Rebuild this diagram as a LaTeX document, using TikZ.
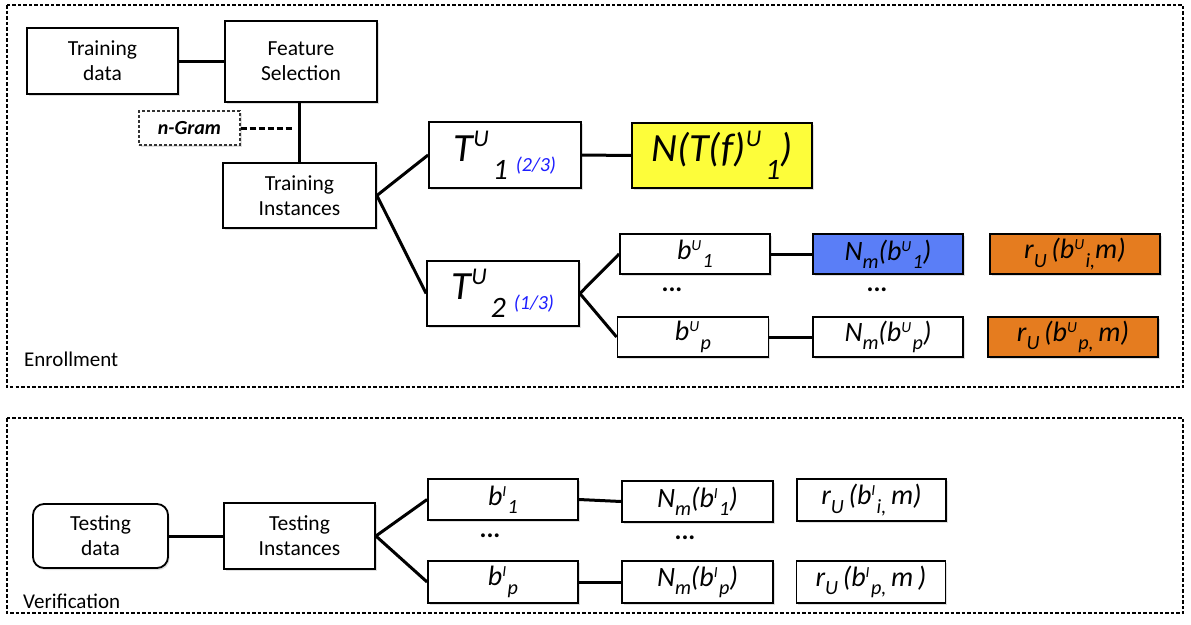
\documentclass[tikz,border=0pt]{standalone}
\usepackage{fontspec}
\setmainfont{Carlito}
\usepackage{graphicx}
\usetikzlibrary{shadows}

\definecolor{hlyellow}{RGB}{253,253,58}
\definecolor{hlblue}{RGB}{90,126,247}
\definecolor{hlorange}{RGB}{229,124,31}
\definecolor{fracblue}{RGB}{30,30,255}

% raised and lowered index pieces, set in the running font
\newcommand\hi[1]{\raisebox{0.32em}{\scalebox{0.55}{#1}}}
\newcommand\lo[1]{\raisebox{-0.3em}{\scalebox{0.72}{#1}}}
% the same for the large labels
\newcommand\hiB[1]{\raisebox{0.38em}{\scalebox{0.6}{#1}}}
\newcommand\loB[1]{\raisebox{-0.45em}{\scalebox{0.74}{#1}}}
\newcommand\frc[1]{{\fontsize{20}{22}\selectfont\color{fracblue}\raisebox{-0.5em}{#1}}}

\tikzset{
  box/.style={draw=black, line width=1.8pt, fill=white, inner sep=0pt,
    align=center, font=\fontsize{21.5}{25}\selectfont,
    drop shadow={shadow xshift=1.5pt, shadow yshift=-2pt, opacity=0.25}},
  mathbox/.style={box, font=\fontsize{28}{30}\selectfont\itshape},
  bigbox/.style={box, font=\fontsize{40}{42}\selectfont\itshape},
  link/.style={line width=3pt},
  frame/.style={draw=black, line width=1.2pt, dash pattern=on 3.5pt off 2pt},
  dotsnode/.style={font=\fontsize{26}{28}\selectfont\bfseries, inner sep=0pt},
  caption/.style={font=\fontsize{21}{23}\selectfont, anchor=base west, inner sep=0pt},
}

\begin{document}
\begin{tikzpicture}[x=1pt, y=-1pt]
\useasboundingbox (0,0) rectangle (1191,624);

% enclosing panels
\draw[frame] (7,5) rectangle (1183,387);
\draw[frame] (7,418) rectangle (1183,613);
\node[caption] (enroll) at (24,366) {Enrollment};
\node[caption] (verif) at (23,608) {Verification};

% ---- enrollment ----
\node[box, minimum width=151pt, minimum height=66pt] (tdata) at (102.5,61) {Training\\data};
\node[box, minimum width=152pt, minimum height=81pt] (fsel) at (301,61.5) {Feature\\Selection};
\node[box, draw=black!80, line width=1.2pt, dash pattern=on 3pt off 2pt,
      minimum width=101pt, minimum height=34pt,
      font=\fontsize{20}{22}\selectfont\bfseries\itshape] (ngram) at (189.5,128) {n-Gram};
\node[box, minimum width=153pt, minimum height=65pt] (tinst) at (299.5,195.5) {Training\\Instances};

\node[bigbox, minimum width=152pt, minimum height=66pt] (t1) at (505,155)
  {T\hiB{U}\hspace{0.1em}\loB{1}\hspace{0.2em}\frc{(2/3)}};
\node[bigbox, fill=hlyellow, minimum width=180pt, minimum height=65pt] (nt1) at (722,155.5)
  {N(T(f)\hiB{U}\hspace{0.1em}\loB{1})};
\node[bigbox, minimum width=152pt, minimum height=65pt] (t2) at (503,293.5)
  {T\hiB{U}\hspace{0.1em}\loB{2}\hspace{0.2em}\frc{(1/3)}};

\node[mathbox, minimum width=150pt, minimum height=40pt] (bu1) at (695,254) {b\hi{U}\hspace{0.05em}\lo{1}};
\node[mathbox, fill=hlblue, minimum width=150pt, minimum height=40pt] (nbu1) at (888,254)
  {N\lo{m}(b\hi{U}\hspace{0.05em}\lo{1})};
\node[mathbox, fill=hlorange, minimum width=170pt, minimum height=40pt] (rbu1) at (1075,254)
  {r\lo{U}\,(b\hi{U}\hspace{0.05em}\lo{i,}m)};
\node[mathbox, minimum width=151pt, minimum height=40pt] (bup) at (693,337) {b\hi{U}\hspace{0.05em}\lo{p}};
\node[mathbox, minimum width=150pt, minimum height=40pt] (nbup) at (888,337)
  {N\lo{m}(b\hi{U}\hspace{0.05em}\lo{p})};
\node[mathbox, fill=hlorange, minimum width=170pt, minimum height=40pt] (rbup) at (1073,337)
  {r\lo{U}\,(b\hi{U}\hspace{0.05em}\lo{p,}\,m)};
\node[dotsnode] (dotsa) at (672,290) {...};
\node[dotsnode] (dotsb) at (877,290) {...};

\coordinate (ngramend) at (293,128);
\draw[link] (tdata.east) -- (fsel.west |- tdata.east);
\draw[link] (tinst.north) -- (tinst.north |- fsel.south);
\draw[line width=3pt, dash pattern=on 6pt off 3pt] (ngram.east) -- (ngramend);
\draw[link] (tinst.east) -- (t1.west);
\draw[link] (tinst.east) -- (t2.west);
\draw[link] (t1.east) -- (nt1.west);
\draw[link] (t2.east) -- (bu1.west);
\draw[link] (t2.east) -- (bup.west);
\draw[link] (bu1.east) -- (nbu1.west);
\draw[link] (bup.east) -- (nbup.west);

% ---- verification ----
\node[box, rounded corners=11pt, minimum width=135pt, minimum height=64pt] (testd) at (100.5,536) {Testing\\data};
\node[box, minimum width=151pt, minimum height=66pt] (testi) at (299.5,536) {Testing\\Instances};
\node[mathbox, minimum width=150pt, minimum height=41pt] (bi1) at (503,499.5) {b\hi{I}\hspace{0.05em}\lo{1}};
\node[mathbox, minimum width=150pt, minimum height=42pt] (bip) at (503,582) {b\hi{I}\hspace{0.05em}\lo{p}};
\node[mathbox, minimum width=151pt, minimum height=41pt] (nbi1) at (697.5,501.5) {N\lo{m}(b\hi{I}\hspace{0.05em}\lo{1})};
\node[mathbox, minimum width=151pt, minimum height=42pt] (nbip) at (697.5,582) {N\lo{m}(b\hi{I}\hspace{0.05em}\lo{p})};
\node[mathbox, minimum width=149pt, minimum height=42pt] (rbi1) at (871.5,500) {r\lo{U}\,(b\hi{I}\hspace{0.05em}\lo{i,}\,m)};
\node[mathbox, minimum width=149pt, minimum height=42pt] (rbip) at (871,582) {r\lo{U}\,(b\hi{I}\hspace{0.05em}\lo{p,}\,m\,)};
\node[dotsnode] (dotsc) at (490,536) {...};
\node[dotsnode] (dotsd) at (685,538) {...};

\draw[link] (testd.east) -- (testi.west);
\draw[link] (testi.east) -- (bi1.west);
\draw[link] (testi.east) -- (bip.west);
\draw[link] (bi1.east) -- (nbi1.west);
\draw[link] (bip.east) -- (nbip.west);
\end{tikzpicture}
\end{document}
